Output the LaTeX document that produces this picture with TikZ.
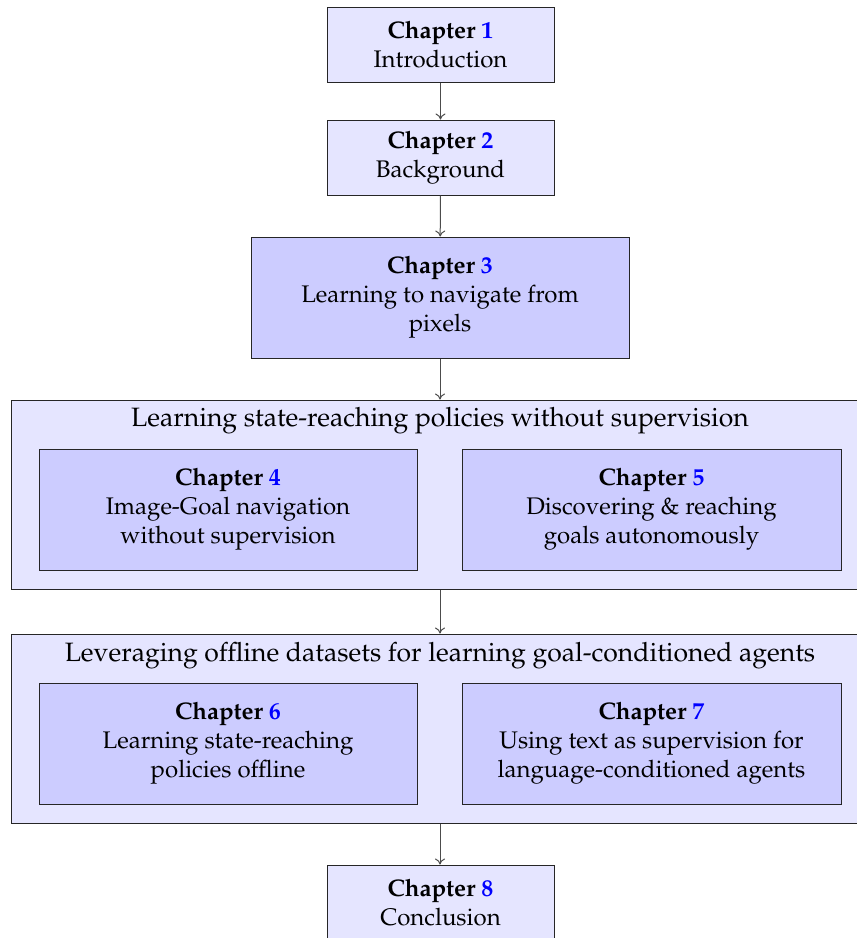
\documentclass[tikz,border=0pt]{standalone}
\usepackage[T1]{fontenc}
\usepackage{mathpazo}
\usetikzlibrary{arrows.meta}
\tikzset{
  chapbox/.style={draw=black!85, line width=0.5pt, fill=blue!10, align=center, inner sep=0pt, font=\fontsize{12}{14.5}\selectfont},
  bigbox/.style={chapbox, fill=blue!20},
  groupbox/.style={draw=black!85, line width=0.5pt, fill=blue!10, inner sep=0pt},
  grouptitle/.style={font=\fontsize{13.27}{16}\selectfont, inner sep=0pt},
  flow/.style={draw=black!70, line width=0.5pt, -{To[length=3pt,width=5pt]}}
}
\newcommand{\chap}[1]{\textbf{Chapter} \textcolor{blue}{\textbf{#1}}}
\begin{document}
\begin{tikzpicture}[x=0.5pt,y=-0.5pt]
\useasboundingbox (0,0) rectangle (857,938);
\clip (0,0) rectangle (857,938);
% top chapters
\node[chapbox, minimum width=113.5pt, minimum height=37.5pt] (c1) at (440.5,44.5) {\chap{1}\\Introduction};
\node[chapbox, minimum width=113.5pt, minimum height=37.5pt] (c2) at (440.5,157.5) {\chap{2}\\Background};
\node[bigbox, minimum width=189pt, minimum height=60.5pt] (c3) at (440,297.5) {\chap{3}\\Learning to navigate from\\pixels};
% group A
\node[groupbox, minimum width=429pt, minimum height=94.5pt] (ga) at (440,494.5) {};
\node[grouptitle] (ta) at (440,421) {Learning state-reaching policies without supervision};
\node[bigbox, minimum width=189pt, minimum height=60.5pt] (c4) at (228,509.5) {\chap{4}\\Image-Goal navigation\\without supervision};
\node[bigbox, minimum width=189.5pt, minimum height=60.5pt] (c5) at (651.5,509.5) {\chap{5}\\Discovering \& reaching\\goals autonomously};
% group B
\node[groupbox, minimum width=429pt, minimum height=94.5pt] (gb) at (440,728.5) {};
\node[grouptitle] (tb) at (440,656) {Leveraging offline datasets for learning goal-conditioned agents};
\node[bigbox, minimum width=189pt, minimum height=60.5pt] (c6) at (228,743.5) {\chap{6}\\Learning state-reaching\\policies offline};
\node[bigbox, minimum width=189.5pt, minimum height=60.5pt] (c7) at (651.5,743.5) {\chap{7}\\Using text as supervision for\\language-conditioned agents};
% conclusion
\node[chapbox, minimum width=113.5pt, minimum height=37.5pt] (c8) at (440.5,902.5) {\chap{8}\\Conclusion};
% arrows
\draw[flow] (c1) -- (c2);
\draw[flow] (c2) -- (c3);
\draw[flow] (c3.south) -- (c3.south |- ga.north);
\draw[flow] (ga.south) -- (ga.south |- gb.north);
\draw[flow] (gb.south) -- (gb.south |- c8.north);
\end{tikzpicture}
\end{document}
